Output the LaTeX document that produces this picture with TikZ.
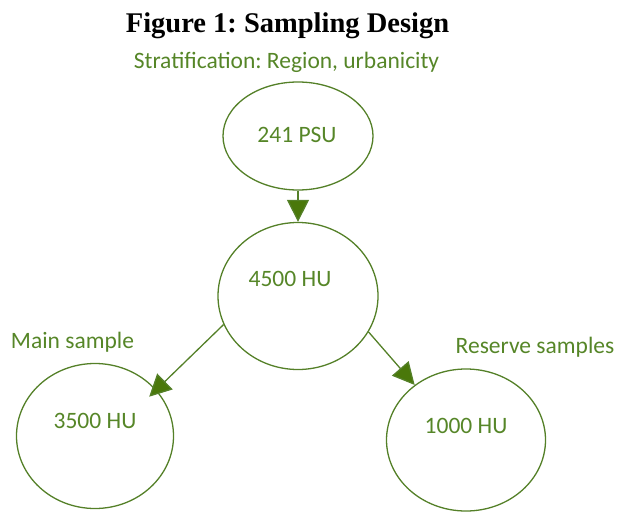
\documentclass[tikz,border=0pt]{standalone}
\usepackage{fontspec}
\setmainfont{Carlito}
\newfontfamily\titlefont{Liberation Serif}
\usetikzlibrary{shapes.geometric,arrows.meta}
\definecolor{txtgreen}{RGB}{86,134,40}
\definecolor{linegreen}{RGB}{84,128,40}
\definecolor{tipgreen}{RGB}{74,120,10}
\frenchspacing
\tikzset{
  bubble/.style={ellipse, draw=linegreen, line width=1.3pt, inner sep=0pt},
  lbl/.style={text=txtgreen, font=\fontsize{23.5}{26}\selectfont, anchor=base, inner sep=0pt},
  flow/.style={draw=linegreen, line width=1.3pt, -{Triangle[length=22pt,width=22pt,fill=tipgreen]}}
}
\begin{document}
\begin{tikzpicture}[x=1pt,y=-1pt]
\useasboundingbox (0,0) rectangle (617,511);
\node[anchor=base, inner sep=0pt, font=\titlefont\bfseries\fontsize{28.5}{30}\selectfont] (title) at (287.5,33) {Figure 1: Sampling Design};
\node[lbl] (strat) at (286.5,68) {Stratification: Region, urbanicity};
\node[bubble, minimum width=150pt, minimum height=108pt] (psu) at (298,136) {};
\node[bubble, minimum width=160pt, minimum height=147pt] (hu) at (298,296) {};
\node[bubble, minimum width=157pt, minimum height=145pt] (main) at (95,436) {};
\node[bubble, minimum width=159pt, minimum height=142pt] (res) at (466,440) {};
\node[lbl] (psut) at (297,142) {241 PSU};
\node[lbl] (hut) at (290,286) {4500 HU};
\node[lbl] (maint) at (95,428) {3500 HU};
\node[lbl] (rest) at (466,433) {1000 HU};
\node[lbl] (mainl) at (72.5,348) {Main sample};
\node[lbl] (resl) at (535,353) {Reserve samples};
\draw[flow] (psu.south) -- (hu.north);
\draw[flow, shorten >=-10pt] (hu.201) -- (main.37);
\draw[flow] (hu.333) -- (res.133);
\end{tikzpicture}
\end{document}
